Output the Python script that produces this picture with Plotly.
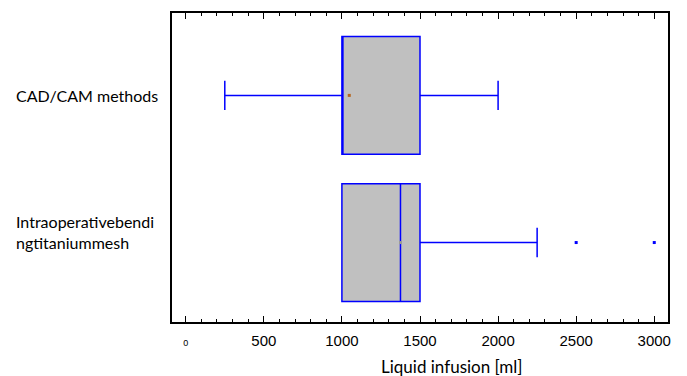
import plotly.graph_objects as go

categories = ["CAD/CAM methods", "Intraoperativebendingtitaniummesh"]
label_text = ["CAD/CAM methods", "Intraoperativebendi<br>ngtitaniummesh"]
q1 = [1000, 1000]
median = [1000, 1375]
q3 = [1500, 1500]
lower = [250, 1000]
upper = [2000, 2250]
means = [1047, 1375]
mean_colors = ["#b5651d", "#999999"]
outlier_cat = ["Intraoperativebendingtitaniummesh", "Intraoperativebendingtitaniummesh"]
outlier_vals = [2500, 3000]

tick_vals = [0, 500, 1000, 1500, 2000, 2500, 3000]
tick_text = ["<span style='font-size:9px'>0</span>", "500", "1000", "1500", "2000", "2500", "3000"]
x_title = "Liquid infusion [ml]"

fig = go.Figure()
fig.add_trace(go.Box(
    y=categories, q1=q1, median=median, q3=q3,
    lowerfence=lower, upperfence=upper,
    orientation="h", width=0.8, whiskerwidth=0.25,
    fillcolor="#c0c0c0", line=dict(color="#0000ff", width=1.5),
    boxpoints=False, showlegend=False, hoverinfo="skip",
))
fig.add_trace(go.Scatter(
    x=means, y=categories, mode="markers",
    marker=dict(color=mean_colors, size=3, symbol="square"),
    showlegend=False, hoverinfo="skip",
))
fig.add_trace(go.Scatter(
    x=outlier_vals, y=outlier_cat, mode="markers",
    marker=dict(color="#0000ff", size=3, symbol="square"),
    showlegend=False, hoverinfo="skip",
))

for cat, txt in zip(categories, label_text):
    fig.add_annotation(
        x=-0.319, xref="paper", y=cat, yref="y", text=txt,
        showarrow=False, xanchor="left", yanchor="middle", align="left",
        font=dict(family="Lato", size=16, color="#000000"),
        yshift=0 if "<br>" not in txt else 11,
    )

fig.add_annotation(
    x=0.564, xref="paper", y=-0.1437, yref="paper", text=x_title,
    showarrow=False, xanchor="center", yanchor="middle",
    font=dict(family="Lato", size=17, color="#000000"),
)

fig.update_layout(
    width=687, height=376,
    margin=dict(l=172, r=19, t=11, b=54),
    paper_bgcolor="white", plot_bgcolor="white",
    font=dict(family="Liberation Sans", size=15, color="#000000"),
)
fig.update_xaxes(
    range=[-88, 3088], tickvals=tick_vals, ticktext=tick_text,
    ticks="inside", ticklen=6, tickcolor="#000000", tickwidth=1,
    minor=dict(dtick=100, ticks="inside", ticklen=3, tickcolor="#000000"),
    showline=True, linecolor="#000000", linewidth=1.5, mirror="allticks",
    showgrid=False, zeroline=False, ticklabelstandoff=4,
    tickfont=dict(family="Liberation Sans", size=15),
)
fig.update_yaxes(
    type="category", categoryorder="array", categoryarray=categories,
    range=[1.54, -0.56], showticklabels=False, ticks="",
    showline=True, linecolor="#000000", linewidth=2, mirror=True,
    showgrid=False, zeroline=False,
)
fig.write_html("out.html")
